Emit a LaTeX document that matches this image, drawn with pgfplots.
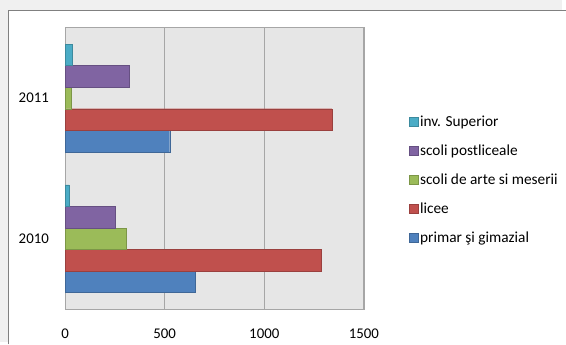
\documentclass[border=0pt]{standalone}
\usepackage{pgfplots}
\pgfplotsset{compat=1.18}
\usepackage{fontspec}
\setmainfont{Carlito}
\definecolor{cblue}{HTML}{4F81BD}
\definecolor{cred}{HTML}{C0504D}
\definecolor{cgreen}{HTML}{9BBB59}
\definecolor{cpurple}{HTML}{8064A2}
\definecolor{ccyan}{HTML}{4BACC6}
\definecolor{plotbg}{HTML}{E6E6E6}
\definecolor{gridc}{HTML}{A6A6A6}
\begin{document}
\begin{tikzpicture}[x=1bp,y=1bp]
\fill[black!6] (0,0) rectangle (566,345);
\fill[white] (8.3,-2) rectangle (570,334.3);
\draw[black!50,line width=1bp] (8.3,-2) -- (8.3,334.3) -- (570,334.3);
\useasboundingbox (0,0) rectangle (566,345);
\begin{axis}[
  at={(65.7bp,33.3bp)}, anchor=south west,
  scale only axis, width=301bp, height=284bp,
  xbar, bar width=0.153,
  xmin=0, xmax=1500, ymin=-0.5, ymax=1.5,
  xtick={0,500,1000,1500},
  ytick={0,1}, yticklabels={2010,2011},
  axis background/.style={fill=plotbg},
  axis line style={gridc},
  xmajorgrids, major grid style={gridc, line width=0.8bp},
  major tick length=0pt,
  tick label style={font=\fontsize{15}{18}\selectfont, black},
  xticklabel style={yshift=-16bp},
  yticklabel style={xshift=-13bp},
  /pgf/number format/assume math mode=true,
  /pgf/number format/1000 sep={},
  legend style={draw=none, fill=none, at={(1.15,0.695)}, anchor=north west,
    font=\fontsize{15.5}{18}\selectfont, row sep=13bp, legend cell align=left,
    inner sep=0pt, /tikz/every even column/.append style={column sep=2bp}},
  reverse legend,
  legend image code/.code={\draw[#1] (0bp,-4.5bp) rectangle (9bp,4.5bp);},
  clip=false,
]
\addplot[fill=cblue, draw=cblue!80!black, bar shift=-0.306] coordinates {(653,0) (525,1)};
\addplot[fill=cred, draw=cred!80!black, bar shift=-0.153] coordinates {(1287,0) (1340,1)};
\addplot[fill=cgreen, draw=cgreen!80!black, bar shift=0] coordinates {(307,0) (30,1)};
\addplot[fill=cpurple, draw=cpurple!80!black, bar shift=0.153] coordinates {(249,0) (320,1)};
\addplot[fill=ccyan, draw=ccyan!80!black, bar shift=0.306] coordinates {(20,0) (33,1)};
\legend{primar şi gimazial, licee, scoli de arte si meserii, scoli postliceale, inv. Superior}
\end{axis}
\end{tikzpicture}
\end{document}
